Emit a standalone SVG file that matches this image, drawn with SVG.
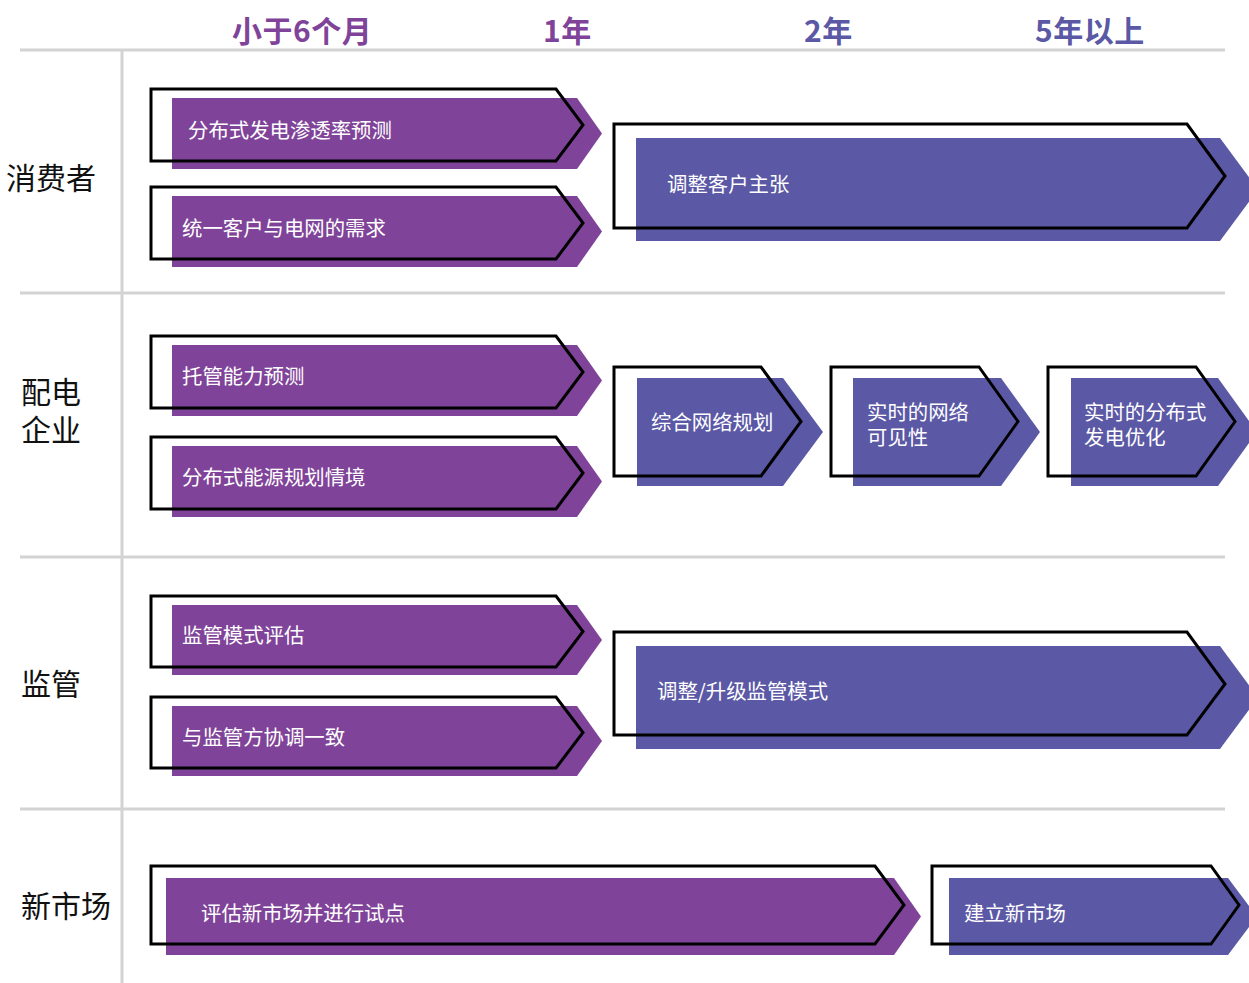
<svg xmlns="http://www.w3.org/2000/svg" width="1249" height="983" viewBox="0 0 1249 983">
<style>
.grid{stroke:#d3d3d3;stroke-width:3;fill:none}
.p{fill:#7f4499}
.b{fill:#5b58a5}
.o{fill:none;stroke:#000;stroke-width:3;stroke-linejoin:miter}
.t{font-family:"Noto Sans CJK SC","Noto Sans",sans-serif;font-size:20.4px;fill:#fff}
.h{font-family:"Noto Sans CJK SC","Noto Sans",sans-serif;font-size:30px;font-weight:bold;letter-spacing:0.5px}
.r{font-family:"Noto Sans CJK SC","Noto Sans",sans-serif;font-size:30px;fill:#111}
</style>
<rect width="1249" height="983" fill="#fff"/>
<g id="grid">
<line class="grid" x1="20" y1="50" x2="1225" y2="50"/>
<line class="grid" x1="20" y1="293" x2="1225" y2="293"/>
<line class="grid" x1="20" y1="557" x2="1225" y2="557"/>
<line class="grid" x1="20" y1="809" x2="1225" y2="809"/>
<line class="grid" x1="122" y1="50" x2="122" y2="983"/>
</g>
<g id="header">
<text class="h" x="232" y="42" fill="#7f4499">小于6个月</text>
<text class="h" x="543" y="42" fill="#7f4499">1年</text>
<text class="h" x="804" y="42" fill="#5b58a5">2年</text>
<text class="h" x="1035" y="42" fill="#5b58a5">5年以上</text>
</g>
<g id="rows">
<text class="r" x="6" y="189">消费者</text>
<text class="r" x="21" y="403">配电</text>
<text class="r" x="21" y="441">企业</text>
<text class="r" x="21" y="695">监管</text>
<text class="r" x="21" y="917">新市场</text>
</g>
<g id="n1">
<polygon class="p" points="172,98 577,98 602,133.5 577,169 172,169"/>
<polygon class="o" points="151,89 556,89 583,125 556,161 151,161"/>
<text class="t" x="188" y="138">分布式发电渗透率预测</text>
</g>
<g id="n2">
<polygon class="p" points="172,196 577,196 602,231.5 577,267 172,267"/>
<polygon class="o" points="151,187 556,187 583,223 556,259 151,259"/>
<text class="t" x="182" y="236">统一客户与电网的需求</text>
</g>
<g id="n3">
<polygon class="b" points="636,138 1220,138 1258,189.5 1220,241 636,241"/>
<polygon class="o" points="614,124 1187,124 1225,176 1187,228 614,228"/>
<text class="t" x="667" y="192">调整客户主张</text>
</g>
<g id="n4">
<polygon class="p" points="172,345 577,345 602,380.5 577,416 172,416"/>
<polygon class="o" points="151,336 556,336 583,372 556,408 151,408"/>
<text class="t" x="182" y="384">托管能力预测</text>
</g>
<g id="n5">
<polygon class="p" points="172,446 577,446 602,481.5 577,517 172,517"/>
<polygon class="o" points="151,437 556,437 583,473 556,509 151,509"/>
<text class="t" x="182" y="485">分布式能源规划情境</text>
</g>
<g id="n6">
<polygon class="b" points="637,378 783,378 823,432 783,486 637,486"/>
<polygon class="o" points="614,367 761,367 801,421.5 761,476 614,476"/>
<text class="t" x="651" y="430">综合网络规划</text>
</g>
<g id="n7">
<polygon class="b" points="853,378 1001,378 1040,432 1001,486 853,486"/>
<polygon class="o" points="831,367 979,367 1018,421.5 979,476 831,476"/>
<text class="t" x="867" y="420">实时的网络</text>
<text class="t" x="867" y="445">可见性</text>
</g>
<g id="n8">
<polygon class="b" points="1071,378 1218,378 1257,432 1218,486 1071,486"/>
<polygon class="o" points="1048,367 1196,367 1235,421.5 1196,476 1048,476"/>
<text class="t" x="1084" y="420">实时的分布式</text>
<text class="t" x="1084" y="445">发电优化</text>
</g>
<g id="n9">
<polygon class="p" points="172,605 577,605 602,640 577,675 172,675"/>
<polygon class="o" points="151,596 556,596 583,631.5 556,667 151,667"/>
<text class="t" x="182" y="643">监管模式评估</text>
</g>
<g id="n10">
<polygon class="p" points="172,706 577,706 602,741 577,776 172,776"/>
<polygon class="o" points="151,697 556,697 583,732.5 556,768 151,768"/>
<text class="t" x="182" y="745">与监管方协调一致</text>
</g>
<g id="n11">
<polygon class="b" points="636,646 1220,646 1258,697.5 1220,749 636,749"/>
<polygon class="o" points="614,632 1187,632 1225,684 1187,735 614,735"/>
<text class="t" x="657" y="699">调整/升级监管模式</text>
</g>
<g id="n12">
<polygon class="p" points="166,878 894,878 921,916.5 894,955 166,955"/>
<polygon class="o" points="151,866 875,866 904,905 875,944 151,944"/>
<text class="t" x="201" y="921">评估新市场并进行试点</text>
</g>
<g id="n13">
<polygon class="b" points="949,878 1228,878 1257,916.5 1228,955 949,955"/>
<polygon class="o" points="932,866 1211,866 1239,905 1211,944 932,944"/>
<text class="t" x="964" y="921">建立新市场</text>
</g>
<g id="connectors"></g>
</svg>
